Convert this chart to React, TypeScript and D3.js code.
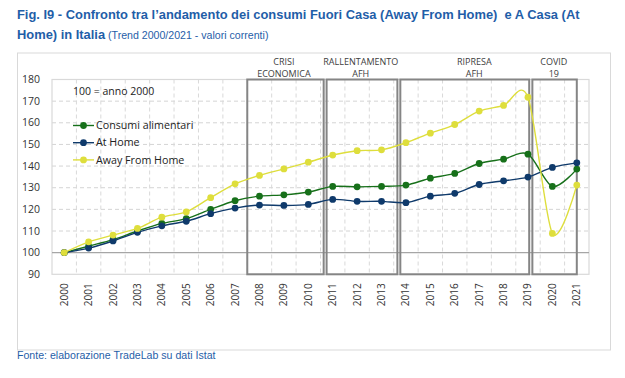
import React from "react";
import * as d3 from "d3";

const years = ["2000","2001","2002","2003","2004","2005","2006","2007","2008","2009","2010","2011","2012","2013","2014","2015","2016","2017","2018","2019","2020","2021"];
const consumiAlimentari = [100, 103.0, 106.0, 110.0, 113.5, 115.7, 120.0, 124.0, 126.1, 126.7, 128.0, 130.6, 130.4, 130.6, 131.2, 134.4, 136.6, 141.2, 143.2, 145.5, 130.6, 138.6];
const atHome = [100, 102.1, 105.4, 109.4, 112.4, 114.5, 118.0, 120.6, 122.0, 121.8, 122.3, 124.6, 123.7, 123.7, 123.1, 126.1, 127.4, 131.5, 133.2, 134.9, 139.4, 141.5];
const awayFromHome = [100, 105.0, 108.1, 111.2, 116.4, 118.8, 125.4, 131.8, 135.7, 138.7, 141.8, 145.1, 147.1, 147.5, 150.8, 155.2, 159.2, 165.4, 168.0, 171.8, 108.9, 131.2];
const yTicks = [90, 100, 110, 120, 130, 140, 150, 160, 170, 180];

const periodNames = [["CRISI", "ECONOMICA"], ["RALLENTAMENTO", "AFH"], ["RIPRESA", "AFH"], ["COVID", "19"]];
const periodStart = [2008, 2011.25, 2014.27, 2019.68];
const periodEnd = [2011.13, 2014.15, 2019.55, 2021.5];
const periodLabelAt = [2009.5, 2012.65, 2017.3, 2020.56];

const seriesNames = ["Consumi alimentari", "At Home", "Away From Home"];
const seriesColors = ["#17701a", "#0f3a6b", "#dede3c"];

export default function App() {
  const W = 625, H = 378;
  const left = 52, right = 589, top = 79.5, bottom = 274.3;
  const x = d3.scaleLinear().domain([-0.5, years.length - 0.5]).range([left, right]);
  const y = d3.scaleLinear().domain([90, 180]).range([bottom, top]);
  const xy = (v: number) => x(v - 2000);
  const line = d3.line<number>().x((_, i) => x(i)).y(d => y(d)).curve(d3.curveCardinal.tension(0.1));
  const series = [consumiAlimentari, atHome, awayFromHome];
  const chartFont = "'Open Sans', sans-serif";
  const blue = "#1f5ea8";

  return (
    <svg width={W} height={H} style={{ position: "absolute", left: 0, top: 0, background: "#fff" }}>
      <rect x={0} y={0} width={W} height={H} fill="#fff" />
      <text x={17} y={19} fontFamily="'Liberation Sans', Arial, sans-serif" fontWeight="bold" fontSize={12.9} fill={blue} style={{ whiteSpace: "pre" }}>
        {"Fig. I9 - Confronto tra l’andamento dei consumi Fuori Casa (Away From Home)  e A Casa (At"}
      </text>
      <text x={17} y={39} fontFamily="'Liberation Sans', Arial, sans-serif" fill={blue} style={{ whiteSpace: "pre" }}>
        <tspan fontWeight="bold" fontSize={12.9}>Home) in Italia</tspan>
        <tspan fontSize={10.6}>{" (Trend 2000/2021 - valori correnti)"}</tspan>
      </text>
      <rect x={17.5} y={53} width={593} height={297} fill="none" stroke="#d9d9d9" strokeWidth={1} />

      {yTicks.filter(t => t !== 90 && t !== 180 && t !== 100).map(t => (
        <line key={"h" + t} x1={left} x2={right} y1={y(t)} y2={y(t)} stroke="#d4d4d4" strokeDasharray="4 3" strokeWidth={1} />
      ))}
      {years.slice(0, -1).map((yr, i) => (
        <line key={"v" + yr} x1={x(i + 0.5)} x2={x(i + 0.5)} y1={top} y2={bottom} stroke="#d9d9d9" strokeDasharray="4 3" strokeWidth={1} />
      ))}
      <rect x={left} y={top} width={right - left} height={bottom - top} fill="none" stroke="#d9d9d9" strokeWidth={1.2} />
      <line x1={left} x2={right} y1={y(100)} y2={y(100)} stroke="#a6a6a6" strokeWidth={1.3} />

      {yTicks.map(t => (
        <text key={"yl" + t} x={40} y={y(t)} dy="0.35em" textAnchor="end" fontFamily={chartFont} fontSize={10.5} fill="#333">{t}</text>
      ))}
      {years.map((yr, i) => (
        <text key={"xl" + yr} transform={`translate(${x(i)},${bottom + 9}) rotate(-90)`} textAnchor="end" dy="0.35em" fontFamily={chartFont} fontSize={10} fill="#333">{yr}</text>
      ))}

      {periodNames.map((nm, k) => (
        <g key={"p" + k}>
          <rect x={xy(periodStart[k] - 0.5)} y={top} width={xy(periodEnd[k] - 0.5) - xy(periodStart[k] - 0.5)} height={bottom - top} fill="none" stroke="#858585" strokeWidth={2} />
          <text x={xy(periodLabelAt[k] - 0.5)} y={65} textAnchor="middle" fontFamily={chartFont} fontSize={9} fill="#404040">{nm[0]}</text>
          <text x={xy(periodLabelAt[k] - 0.5)} y={76.5} textAnchor="middle" fontFamily={chartFont} fontSize={9} fill="#404040">{nm[1]}</text>
        </g>
      ))}

      {series.map((s, k) => (
        <g key={"s" + k}>
          <path d={line(s) || ""} fill="none" stroke={seriesColors[k]} strokeWidth={1.4} />
          {s.map((v, i) => (
            <circle key={i} cx={x(i)} cy={y(v)} r={3.4} fill={seriesColors[k]} />
          ))}
        </g>
      ))}

      <text x={73} y={91} dy="0.35em" fontFamily={chartFont} fontSize={10.5} fill="#222">100 = anno 2000</text>
      {seriesNames.map((nm, k) => {
        const ly = 125.5 + k * 17.2;
        return (
          <g key={"lg" + k}>
            <line x1={73} x2={94} y1={ly} y2={ly} stroke={seriesColors[k]} strokeWidth={1.4} />
            <circle cx={83.5} cy={ly} r={3.4} fill={seriesColors[k]} />
            <text x={96} y={ly} dy="0.35em" fontFamily={chartFont} fontSize={10.7} fill="#222">{nm}</text>
          </g>
        );
      })}

      <text x={17} y={359} fontFamily="'Liberation Sans', Arial, sans-serif" fontSize={10.6} fill={blue}>Fonte: elaborazione TradeLab su dati Istat</text>
    </svg>
  );
}
